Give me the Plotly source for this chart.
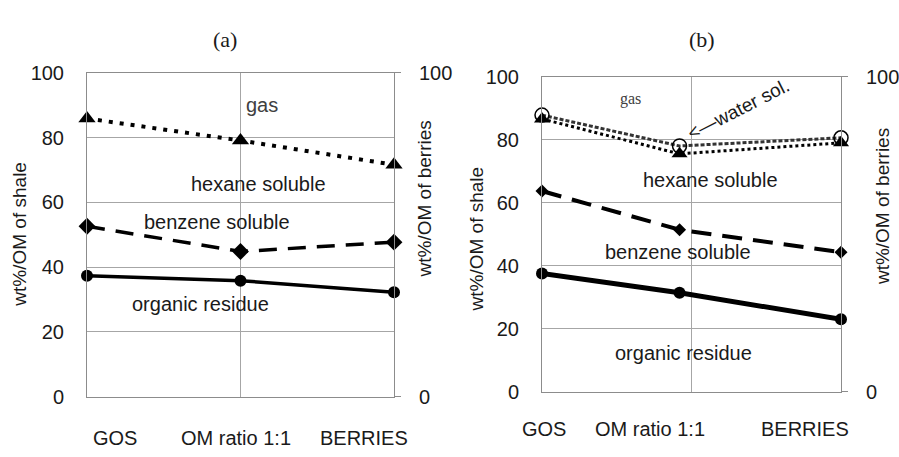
import plotly.graph_objects as go

# ---------------- data ----------------
categories = ["GOS", "OM ratio 1:1", "BERRIES"]
x_a = [0, 1, 2]
x_b = [0, 0.92, 2]

# panel (a)
a_gas_hexane = [85.9, 79.1, 71.6]
a_benzene = [52.6, 44.8, 47.7]
a_residue = [37.3, 35.8, 32.2]

# panel (b)
b_water = [87.8, 78.0, 80.6]
b_gas_hexane = [86.6, 75.5, 79.0]
b_benzene = [63.7, 51.4, 44.3]
b_residue = [37.5, 31.4, 23.0]

y_ticks = [0, 20, 40, 60, 80, 100]
right_ticks = [0, 100]

W, H = 899, 457
def px(x):
    return x / W
def py(y):
    return 1 - y / H

GRID = "#a6a6a6"
AXL = "#8c8c8c"
TXT = "#1a1a1a"
FONT = "Liberation Sans, Arial, sans-serif"

fig = go.Figure()

def add(x, y, xa, ya, symbol, msize, dash, width, mfill="black", mline=0, lcolor="black"):
    fig.add_trace(go.Scatter(
        x=x, y=y, xaxis=xa, yaxis=ya, mode="lines+markers",
        line=dict(color=lcolor, width=width, dash=dash),
        marker=dict(symbol=symbol, size=msize, color=mfill,
                    line=dict(color="black", width=mline)),
        cliponaxis=False, showlegend=False, hoverinfo="skip"))

# panel (a)
add(x_a, a_residue, "x", "y", "circle", 12, "solid", 3.5)
add(x_a, a_benzene, "x", "y", "diamond", 13, "18px,11px", 3.5)
add(x_a, a_gas_hexane, "x", "y", "triangle-up", 15, "4px,7px", 4)
# panel (b)
add(x_b, b_residue, "x2", "y3", "circle", 12, "solid", 5)
add(x_b, b_benzene, "x2", "y3", "diamond", 10, "20px,11px", 4)
add(x_b, b_water, "x2", "y3", "circle-open", 14, "4px,2px", 3, mfill="black", mline=1.5, lcolor="#333")
add(x_b, b_gas_hexane, "x2", "y3", "triangle-up", 14, "3px,3px", 3)

# dummy traces for right axes
fig.add_trace(go.Scatter(x=[None], y=[None], xaxis="x", yaxis="y2", showlegend=False, hoverinfo="skip"))
fig.add_trace(go.Scatter(x=[None], y=[None], xaxis="x2", yaxis="y4", showlegend=False, hoverinfo="skip"))

dom_xa = [px(87), px(394)]
dom_ya = [py(405), py(65)]
dom_xb = [px(542), px(841)]
dom_yb = [py(400), py(69)]

def xaxis(dom, yanchor):
    return dict(domain=dom, range=[0, 2], anchor=yanchor, tickvals=[0, 1, 2],
                showticklabels=False, showgrid=True, gridcolor=GRID, gridwidth=1,
                showline=True, linecolor=AXL, linewidth=1, mirror=True,
                zeroline=False, ticks="")

def yleft(dom, xanchor):
    return dict(domain=dom, range=[0, 100], anchor=xanchor, tickvals=y_ticks,
                showgrid=True, gridcolor=GRID, gridwidth=1, showline=True,
                linecolor=AXL, linewidth=1, zeroline=False, ticks="",
                ticklabelstandoff=18, tickfont=dict(family=FONT, size=20, color=TXT))

def yright(overlay, xanchor):
    return dict(range=[0, 100], overlaying=overlay, anchor=xanchor, side="right",
                tickvals=right_ticks, showgrid=False, showline=True, linecolor=AXL,
                linewidth=1, zeroline=False, ticks="outside", ticklen=6, tickcolor=AXL,
                ticklabelstandoff=14, tickfont=dict(family=FONT, size=20, color=TXT))

fig.update_layout(
    width=W, height=H, margin=dict(l=0, r=0, t=0, b=0),
    paper_bgcolor="white", plot_bgcolor="white",
    xaxis=xaxis(dom_xa, "y"), yaxis=yleft(dom_ya, "x"), yaxis2=yright("y", "x"),
    xaxis2=xaxis(dom_xb, "y3"), yaxis3=yleft(dom_yb, "x2"), yaxis4=yright("y3", "x2"),
)

ann = []
def txt(x, y, s, size=20, color=TXT, family=FONT, angle=0):
    ann.append(dict(x=px(x), y=py(y), xref="paper", yref="paper", text=s,
                    showarrow=False, textangle=angle, xanchor="center", yanchor="middle",
                    font=dict(family=family, size=size, color=color)))

SERIF = "Liberation Serif, Times New Roman, serif"
txt(225, 30, "(a)", size=22, family=SERIF)
txt(702, 30, "(b)", size=22, family=SERIF)

# category labels
for cx, s in zip([115, 236, 364], categories):
    txt(cx, 449, s, size=20)
for cx, s in zip([544, 650, 805], categories):
    txt(cx, 439, s, size=20)

# axis titles
txt(20, 235, "wt%/OM of shale", size=19, angle=-90)
txt(424, 198, "wt%/OM of berries", size=19, angle=-90)
txt(476, 240, "wt%/OM of shale", size=19, angle=-90)
txt(882, 206, "wt%/OM of berries", size=19, angle=-90)

# region labels (a)
txt(262, 99, "gas", color="#404040")
txt(258, 182, "hexane soluble")
txt(217, 222, "benzene soluble")
txt(200, 308, "organic residue")
# region labels (b)
txt(630, 92, "gas", size=16, color="#404040", family=SERIF)
txt(738, 104, "<—water sol.", size=19, angle=-27)
txt(710, 178, "hexane soluble")
txt(678, 253, "benzene soluble")
txt(683, 359, "organic residue")

fig.update_layout(annotations=ann)
fig.write_html("out.html")
